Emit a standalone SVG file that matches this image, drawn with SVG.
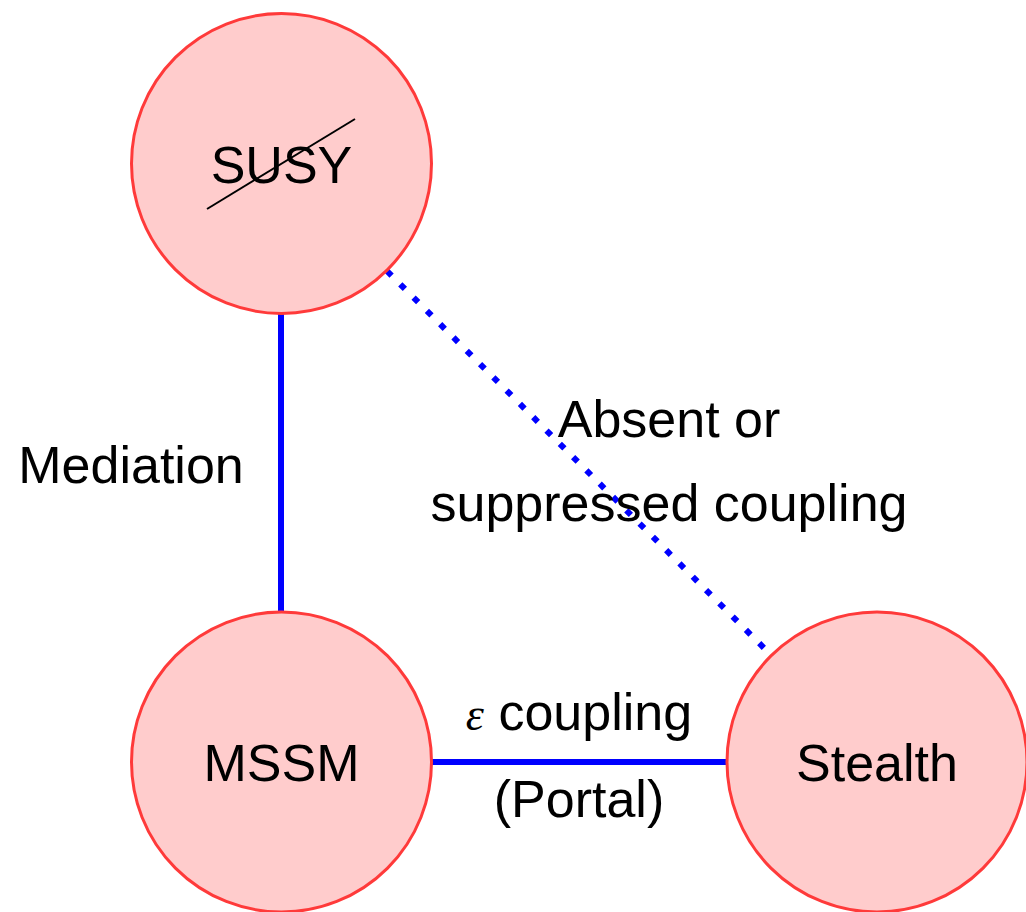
<svg xmlns="http://www.w3.org/2000/svg" width="1026" height="912" viewBox="0 0 1026 912">
<style>
.node{fill:#ffcccc;stroke:#ff3a3a;stroke-width:3}
.lbl{font-family:"Liberation Sans",Arial,sans-serif;font-size:52px;fill:#000;text-anchor:middle}
.edge{stroke:#0000ff;stroke-width:6;fill:none}
</style>
<rect width="1026" height="912" fill="#fff"/>
<g id="connectors">
<line class="edge" x1="281" y1="314" x2="281" y2="612"/>
<line class="edge" x1="431" y1="762" x2="728" y2="762"/>
<line class="edge" x1="387" y1="271" x2="768" y2="652" stroke-width="6" stroke-dasharray="6.5 12.3"/>
</g>
<g id="susy">
<circle class="node" cx="281.5" cy="163.5" r="150"/>
<text class="lbl" x="281.5" y="183">SUSY</text>
<line x1="207" y1="209" x2="355" y2="119" stroke="#000" stroke-width="2"/>
</g>
<g id="mssm">
<circle class="node" cx="281.5" cy="762" r="150"/>
<text class="lbl" x="281.5" y="781">MSSM</text>
</g>
<g id="stealth">
<circle class="node" cx="877" cy="762" r="150"/>
<text class="lbl" x="877" y="781">Stealth</text>
</g>
<g id="labels">
<text class="lbl" x="131" y="483">Mediation</text>
<text class="lbl" x="669" y="437">Absent or</text>
<text class="lbl" x="669" y="521">suppressed coupling</text>
<text class="lbl" x="579" y="730"><tspan font-family="'Liberation Serif',serif" font-style="italic" font-size="46">ε</tspan> coupling</text>
<text class="lbl" x="579" y="817">(Portal)</text>
</g>
</svg>
